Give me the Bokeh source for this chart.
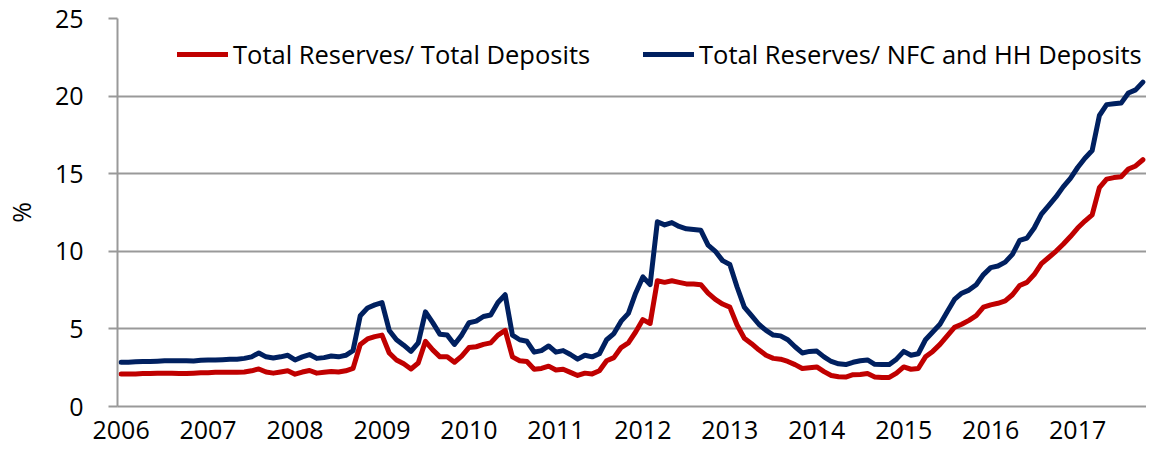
import numpy as np
from bokeh.plotting import figure
from bokeh.models import FixedTicker, Legend, LegendItem, ColumnDataSource
from bokeh.embed import file_html
from bokeh.resources import INLINE

# ---- data (monthly, Jan 2006 .. Oct 2017) ----
year_labels = ["2006", "2007", "2008", "2009", "2010", "2011",
               "2012", "2013", "2014", "2015", "2016", "2017"]

reserves_total_deposits = [
    2.1, 2.1, 2.1, 2.12, 2.12, 2.15, 2.15, 2.15, 2.13, 2.12, 2.15, 2.18,
    2.18, 2.2, 2.2, 2.2, 2.2, 2.22, 2.3, 2.42, 2.22, 2.15, 2.22, 2.3,
    2.08, 2.22, 2.32, 2.15, 2.2, 2.25, 2.22, 2.3, 2.45, 4.0, 4.35, 4.5,
    4.6, 3.45, 3.0, 2.75, 2.42, 2.8, 4.2, 3.65, 3.2, 3.2, 2.85, 3.25,
    3.8, 3.85, 4.0, 4.1, 4.6, 4.9, 3.2, 2.95, 2.9, 2.4, 2.45, 2.6,
    2.35, 2.4, 2.2, 2.0, 2.15, 2.1, 2.3, 2.95, 3.15, 3.8, 4.1, 4.8,
    5.6, 5.35, 8.1, 8.0, 8.1, 8.0, 7.9, 7.9, 7.85, 7.3, 6.9, 6.6,
    6.4, 5.25, 4.4, 4.05, 3.65, 3.3, 3.1, 3.05, 2.9, 2.7, 2.45, 2.5,
    2.55, 2.25, 2.0, 1.92, 1.9, 2.05, 2.06, 2.12, 1.9, 1.87, 1.87, 2.15,
    2.55, 2.4, 2.45, 3.2, 3.55, 4.0, 4.55, 5.1, 5.3, 5.55, 5.85, 6.4,
    6.55, 6.65, 6.8, 7.2, 7.8, 8.0, 8.5, 9.2, 9.6, 10.0, 10.45, 10.95,
    11.5, 11.95, 12.35, 14.1, 14.65, 14.75, 14.8, 15.3, 15.5, 15.9,
]

reserves_nfc_hh_deposits = [
    2.85, 2.85, 2.88, 2.9, 2.9, 2.92, 2.95, 2.95, 2.95, 2.95, 2.93, 2.98,
    3.0, 3.0, 3.02, 3.05, 3.05, 3.1, 3.2, 3.45, 3.2, 3.12, 3.2, 3.3,
    3.0, 3.2, 3.35, 3.1, 3.15, 3.25, 3.2, 3.3, 3.6, 5.85, 6.35, 6.55,
    6.7, 4.9, 4.3, 3.95, 3.55, 4.1, 6.1, 5.4, 4.65, 4.6, 4.0, 4.6,
    5.4, 5.5, 5.8, 5.9, 6.7, 7.2, 4.6, 4.3, 4.2, 3.5, 3.6, 3.9,
    3.5, 3.6, 3.35, 3.05, 3.3, 3.2, 3.4, 4.3, 4.7, 5.5, 6.0, 7.3,
    8.35, 7.85, 11.9, 11.7, 11.85, 11.6, 11.45, 11.4, 11.35, 10.4, 10.0, 9.4,
    9.15, 7.7, 6.4, 5.85, 5.3, 4.9, 4.6, 4.55, 4.3, 3.85, 3.45, 3.55,
    3.57, 3.2, 2.9, 2.75, 2.7, 2.85, 2.95, 3.0, 2.72, 2.7, 2.7, 3.05,
    3.55, 3.3, 3.4, 4.3, 4.8, 5.3, 6.1, 6.9, 7.3, 7.5, 7.85, 8.5,
    8.95, 9.05, 9.3, 9.8, 10.7, 10.85, 11.5, 12.4, 12.95, 13.5, 14.15, 14.7,
    15.4, 16.0, 16.5, 18.75, 19.45, 19.5, 19.55, 20.2, 20.4, 20.9,
]

series_names = ["Total Reserves/ Total Deposits",
                "Total Reserves/ NFC and HH Deposits"]
y_ticks = [0, 5, 10, 15, 20, 25]

RED = "#C00000"
BLUE = "#002060"
GRID = "#999999"
FONT = "Open Sans"

n = len(reserves_total_deposits)
month_idx = np.arange(n) + 0.5
src = ColumnDataSource(dict(x=month_idx,
                            red=reserves_total_deposits,
                            blue=reserves_nfc_hh_deposits))

p = figure(width=1146, height=450, output_backend="svg", toolbar_location=None,
           x_range=(0, n), y_range=(0, 25),
           min_border_left=116, min_border_right=0,
           min_border_top=18, min_border_bottom=44)
p.outline_line_color = None
p.background_fill_color = "white"

r_red = p.line("x", "red", source=src, line_color=RED, line_width=5,
               line_join="round", line_cap="round")
r_blue = p.line("x", "blue", source=src, line_color=BLUE, line_width=5,
                line_join="round", line_cap="round")

# axes
p.xaxis.ticker = FixedTicker(ticks=[0.5 + 12 * k for k in range(len(year_labels))])
p.xaxis.major_label_overrides = {0.5 + 12 * k: lab for k, lab in enumerate(year_labels)}
p.xaxis.major_tick_out = 0
p.xaxis.major_tick_in = 0
p.xaxis.minor_tick_out = 0
p.xaxis.minor_tick_in = 0
p.xaxis.axis_line_color = GRID
p.xaxis.axis_line_width = 2
p.xaxis.major_label_standoff = 14

p.yaxis.ticker = FixedTicker(ticks=y_ticks)
p.yaxis.major_tick_out = 9
p.yaxis.major_tick_in = 0
p.yaxis.minor_tick_out = 0
p.yaxis.minor_tick_in = 0
p.yaxis.major_tick_line_color = GRID
p.yaxis.major_tick_line_width = 2
p.yaxis.axis_line_color = GRID
p.yaxis.axis_line_width = 2
p.yaxis.major_label_standoff = 25
p.yaxis.axis_label = "%"
p.yaxis.axis_label_standoff = 14
p.yaxis.axis_label_text_font_style = "normal"

for ax in (p.xaxis[0], p.yaxis[0]):
    ax.major_label_text_font = FONT
    ax.major_label_text_font_size = "25px"
    ax.major_label_text_color = "#000000"
    ax.axis_label_text_font = FONT
    ax.axis_label_text_font_size = "25px"
    ax.axis_label_text_color = "#000000"

p.xgrid.grid_line_color = None
p.ygrid.grid_line_color = GRID
p.ygrid.grid_line_width = 2

# legends (one per item so each sits where the reference puts it)
for renderer, name, xpos in ((r_red, series_names[0], 60),
                             (r_blue, series_names[1], 526)):
    lg = Legend(items=[LegendItem(label=name, renderers=[renderer])],
                location=(xpos, 335), orientation="horizontal",
                glyph_width=51, glyph_height=30, label_height=30,
                label_standoff=5, padding=0, margin=0, spacing=0,
                border_line_alpha=0, background_fill_alpha=0,
                label_text_font=FONT, label_text_font_size="25.5px",
                label_text_color="#000000")
    p.add_layout(lg, "center")

open("out.html", "w").write(file_html(p, INLINE))
